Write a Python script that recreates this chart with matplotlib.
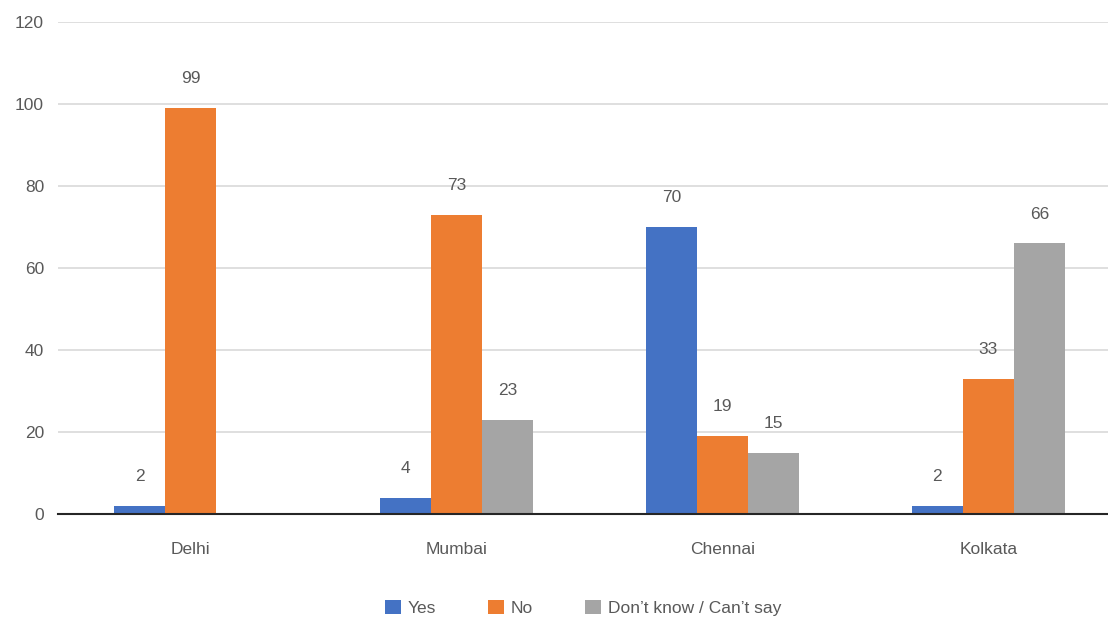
import numpy as np
import matplotlib.pyplot as plt

cities = ['Delhi', 'Mumbai', 'Chennai', 'Kolkata']
yes_vals = [2, 4, 70, 2]
no_vals = [99, 73, 19, 33]
dont_know_vals = [0, 23, 15, 66]
series_names = ['Yes', 'No', 'Don\u2019t know / Can\u2019t say']
colors = ['#4472C4', '#ED7D31', '#A5A5A5']

plt.rcParams['font.family'] = ['Liberation Sans Narrow', 'Liberation Sans', 'DejaVu Sans']
text_color = '#595959'

fig = plt.figure(figsize=(11.08, 6.2), dpi=100)
ax = fig.add_axes([58 / 1108, 1 - 514 / 620, 1 - 58 / 1108, (514 - 22) / 620])

x = np.arange(len(cities))
width = 0.192
all_vals = [yes_vals, no_vals, dont_know_vals]
for i, (vals, name, c) in enumerate(zip(all_vals, series_names, colors)):
    pos = x + (i - 1) * width
    bars = ax.bar(pos, vals, width, color=c, label=name, zorder=3)
    for b, v in zip(bars, vals):
        if v:
            ax.text(b.get_x() + b.get_width() / 2, v + 5.3, str(v), ha='center', va='bottom',
                    fontsize=12.5, color=text_color)

ax.set_ylim(0, 120)
ax.set_yticks(range(0, 121, 20))
ax.set_xlim(-0.5, 3.45)
ax.set_xticks(x)
ax.set_xticklabels(cities)
ax.grid(axis='y', color='#D9D9D9', linewidth=1.2, zorder=0)
for s in ['top', 'right', 'left']:
    ax.spines[s].set_visible(False)
ax.spines['bottom'].set_color('#262626')
ax.spines['bottom'].set_linewidth(1.5)
ax.spines['bottom'].set_zorder(4)
ax.tick_params(axis='both', length=0, labelsize=12.5, colors=text_color)
ax.tick_params(axis='x', pad=20)
ax.tick_params(axis='y', pad=10)

# legend sits at the very bottom, centred under the plot area
leg_y = -(608 - 514) / (514 - 22)
ax.legend(loc='center', bbox_to_anchor=(0.5, leg_y), bbox_transform=ax.transAxes,
          ncol=3, frameon=False, fontsize=12.5, handlelength=0.9, handleheight=0.9,
          columnspacing=3.0, handletextpad=0.4, labelcolor=text_color)

fig.savefig('out.png', dpi=100)
